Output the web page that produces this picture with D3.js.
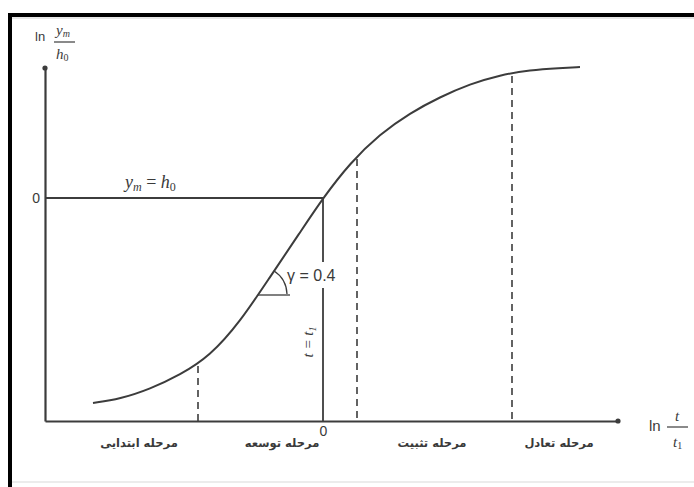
<!DOCTYPE html>
<html><head><meta charset="utf-8">
<script src="https://cdn.jsdelivr.net/npm/d3@7"></script>
<style>
html,body{margin:0;padding:0;background:#fff;}
svg{display:block;}
text{fill:#3a3a3a;}
</style></head>
<body>
<svg id="chart" width="694" height="487"></svg>
<script>
// ---- data (units: ln(t/t1) on x, ln(ym/h0) on y) ----
const curveX = [-4.6, -4.06, -3.46, -2.86, -2.26, -1.66, -1.06, -0.46, 0, 0.54, 1.14, 1.74, 2.34, 2.94, 3.54, 4.14, 4.74, 5.14];
const curveY = [-4.1, -4.02, -3.82, -3.54, -3.16, -2.48, -1.58, -0.69, 0, 0.7, 1.28, 1.7, 2.02, 2.28, 2.46, 2.56, 2.6, 2.62];
const boundaryX = [-2.5, 0.68, 3.78];
const boundaryY = [-3.3, 0.84, 2.5];
const stageNames = ["مرحله ابتدایی", "مرحله توسعه", "مرحله تثبیت", "مرحله تعادل"];
const stageCenters = [-3.68, -0.82, 2.18, 4.72];
const xTicks = [0];
const yTicks = [0];
const xDomain = [-5.56, 5.9];
const yDomain = [-4.46, 2.6];
const slopeLabel = "γ = 0.4";
const angleVertex = [-1.3, -1.94];
const angleRayEnd = -0.66;
const tGapTop = -1.28, tGapBottom = -1.8;

const svg = d3.select("#chart");
const x = d3.scaleLinear().domain(xDomain).range([45, 618]);
const y = d3.scaleLinear().domain(yDomain).range([421, 68]);
const ink = "#3c3c3c";

// frame
svg.append("line").attr("x1", 8).attr("x2", 694).attr("y1", 15).attr("y2", 15).attr("stroke", "#000").attr("stroke-width", 4);
svg.append("line").attr("x1", 10).attr("x2", 10).attr("y1", 13).attr("y2", 487).attr("stroke", "#000").attr("stroke-width", 4);
svg.append("line").attr("x1", 12).attr("x2", 694).attr("y1", 18).attr("y2", 18).attr("stroke", "#e6e6e6").attr("stroke-width", 2);
svg.append("line").attr("x1", 12).attr("x2", 694).attr("y1", 482).attr("y2", 482).attr("stroke", "#ececec").attr("stroke-width", 2);

// axes
const xAxis = d3.axisBottom(x).tickValues(xTicks).tickSize(0).tickSizeOuter(0).tickPadding(7).tickFormat(d3.format("d"));
const gx = svg.append("g").attr("transform", `translate(0,${y(yDomain[0])})`).call(xAxis);
gx.select(".domain").attr("stroke", ink).attr("stroke-width", 2.2);
gx.selectAll("text").attr("font-family", "Liberation Sans, Arial, sans-serif").attr("font-size", 14).attr("fill", "#3a3a3a").attr("dy", "0.6em");

const yAxis = d3.axisLeft(y).tickValues(yTicks).tickSize(0).tickSizeOuter(0).tickPadding(5).tickFormat(d3.format("d"));
const gy = svg.append("g").attr("transform", `translate(${x(xDomain[0])},0)`).call(yAxis);
gy.select(".domain").attr("stroke", ink).attr("stroke-width", 2.2);
gy.selectAll("text").attr("font-family", "Liberation Sans, Arial, sans-serif").attr("font-size", 14).attr("fill", "#3a3a3a");

// arrow dots
svg.append("circle").attr("cx", x(xDomain[1])).attr("cy", y(yDomain[0])).attr("r", 2.6).attr("fill", ink);
svg.append("circle").attr("cx", x(xDomain[0])).attr("cy", y(yDomain[1])).attr("r", 2.6).attr("fill", ink);

// reference lines ym = h0 and t = t1
svg.append("line").attr("x1", x(xDomain[0])).attr("x2", x(0)).attr("y1", y(0)).attr("y2", y(0)).attr("stroke", ink).attr("stroke-width", 1.8);
svg.append("line").attr("x1", x(0)).attr("x2", x(0)).attr("y1", y(0)).attr("y2", y(tGapTop)).attr("stroke", ink).attr("stroke-width", 1.8);
svg.append("line").attr("x1", x(0)).attr("x2", x(0)).attr("y1", y(tGapBottom)).attr("y2", y(yDomain[0])).attr("stroke", ink).attr("stroke-width", 1.8);

// stage boundaries (dashed)
svg.selectAll(".bnd").data(boundaryX).enter().append("line")
  .attr("x1", d => x(d)).attr("x2", d => x(d))
  .attr("y1", (d, i) => y(boundaryY[i]) + 3).attr("y2", y(yDomain[0]))
  .attr("stroke", ink).attr("stroke-width", 1.6).attr("stroke-dasharray", "7,5");

// curve
const pts = curveX.map((d, i) => [d, curveY[i]]);
svg.append("path").datum(pts)
  .attr("d", d3.line().x(d => x(d[0])).y(d => y(d[1])).curve(d3.curveBasis))
  .attr("fill", "none").attr("stroke", ink).attr("stroke-width", 2);

// angle marker
const vx = x(angleVertex[0]), vy = y(angleVertex[1]);
svg.append("line").attr("x1", vx).attr("x2", x(angleRayEnd)).attr("y1", vy).attr("y2", vy).attr("stroke", ink).attr("stroke-width", 1.3);
const r = 29, a0 = -57 * Math.PI / 180;
svg.append("path")
  .attr("d", `M${vx + r * Math.cos(a0)},${vy + r * Math.sin(a0)} A${r},${r} 0 0 1 ${vx + r},${vy - 1}`)
  .attr("fill", "none").attr("stroke", ink).attr("stroke-width", 1.3);
svg.append("text").attr("x", 287).attr("y", 281).attr("font-family", "Liberation Sans, Arial, sans-serif")
  .attr("font-size", 16).text(slopeLabel);

// t = t1 rotated
const tt = svg.append("text").attr("transform", "translate(313,342) rotate(-90)").attr("text-anchor", "middle")
  .attr("font-family", "Liberation Serif, serif").attr("font-style", "italic").attr("font-size", 15);
tt.append("tspan").text("t = t");
tt.append("tspan").attr("font-size", 10).attr("dy", 3).text("1");

// ym = h0 label
const yl = svg.append("text").attr("x", 125).attr("y", 188).attr("font-family", "Liberation Serif, serif").attr("font-style", "italic").attr("font-size", 18);
yl.append("tspan").text("y");
yl.append("tspan").attr("font-size", 12).attr("dy", 3).text("m");
yl.append("tspan").attr("dy", -3).attr("font-style", "normal").text(" = ");
yl.append("tspan").text("h");
yl.append("tspan").attr("font-size", 12).attr("dy", 3).attr("font-style", "normal").text("0");

// y axis title: ln ym/h0
svg.append("text").attr("x", 35).attr("y", 41).attr("font-family", "Liberation Sans, Arial, sans-serif").attr("font-size", 13).text("ln");
const yn = svg.append("text").attr("x", 56).attr("y", 35).attr("font-family", "Liberation Serif, serif").attr("font-style", "italic").attr("font-size", 15);
yn.append("tspan").text("y");
yn.append("tspan").attr("font-size", 10).attr("dy", 2).text("m");
svg.append("line").attr("x1", 54).attr("x2", 75).attr("y1", 42).attr("y2", 42).attr("stroke", ink).attr("stroke-width", 1.2);
const yd = svg.append("text").attr("x", 56).attr("y", 59).attr("font-family", "Liberation Serif, serif").attr("font-style", "italic").attr("font-size", 15);
yd.append("tspan").text("h");
yd.append("tspan").attr("font-size", 10).attr("dy", 2).attr("font-style", "normal").text("0");

// x axis title: ln t/t1
svg.append("text").attr("x", 649).attr("y", 431).attr("font-family", "Liberation Sans, Arial, sans-serif").attr("font-size", 15).text("ln");
svg.append("text").attr("x", 677).attr("y", 421).attr("text-anchor", "middle").attr("font-family", "Liberation Serif, serif").attr("font-style", "italic").attr("font-size", 15).text("t");
svg.append("line").attr("x1", 667).attr("x2", 688).attr("y1", 427).attr("y2", 427).attr("stroke", ink).attr("stroke-width", 1.2);
const xd = svg.append("text").attr("x", 673).attr("y", 447).attr("font-family", "Liberation Serif, serif").attr("font-style", "italic").attr("font-size", 15);
xd.append("tspan").text("t");
xd.append("tspan").attr("font-size", 10).attr("dy", 2).attr("font-style", "normal").text("1");

// stage names
svg.selectAll(".stage").data(stageNames).enter().append("text")
  .attr("x", (d, i) => x(stageCenters[i])).attr("y", 447)
  .attr("text-anchor", "middle").attr("font-family", "DejaVu Sans, sans-serif").attr("font-size", 11.5)
  .attr("font-weight", "bold").attr("direction", "rtl").attr("fill", "#333").text(d => d);
</script>
</body></html>
